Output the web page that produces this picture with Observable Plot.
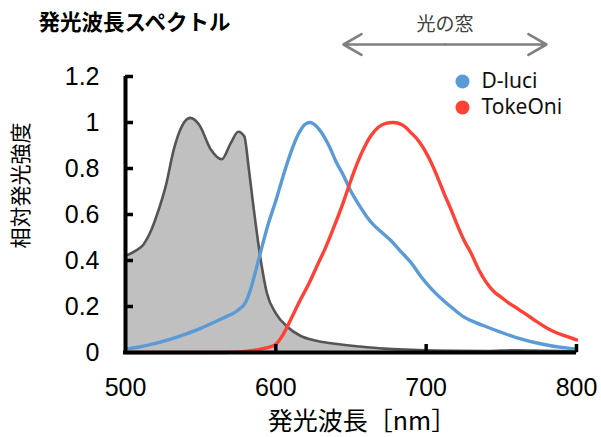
<!DOCTYPE html>
<html>
<head>
<meta charset="utf-8">
<script src="https://cdn.jsdelivr.net/npm/d3@7"></script>
<script src="https://cdn.jsdelivr.net/npm/@observablehq/plot@0.6"></script>
<style>
  html, body { margin: 0; padding: 0; background: #fff; }
  #chart svg { display: block; }
</style>
</head>
<body>
<div id="chart"></div>
<script>
// ---- data ----
const title = "発光波長スペクトル";
const yLabel = "相対発光強度";
const xLabel = "発光波長［nm］";
const windowLabel = "光の窓";
const windowRange = [645, 780];

const xDomain = [500, 800];
const yDomain = [0, 1.2];
const xTicks = [500, 600, 700, 800];
const yTicks = [0, 0.2, 0.4, 0.6, 0.8, 1, 1.2];

const seriesNames = ["D-luci", "TokeOni"];
const seriesColors = ["#5b9bd5", "#ff4136"];

// gray filled spectrum (light source)
const lampWl  = [500, 506, 512, 517, 521, 527, 532, 538, 543, 549, 557, 564, 570, 575, 579, 582, 585, 590, 594, 600, 608, 616, 626, 638, 656, 672, 690, 705, 720, 740, 760, 780, 800];
const lampVal = [0.42, 0.44, 0.47, 0.53, 0.60, 0.73, 0.88, 0.99, 1.02, 0.99, 0.88, 0.84, 0.91, 0.96, 0.94, 0.80, 0.64, 0.40, 0.26, 0.17, 0.11, 0.074, 0.052, 0.039, 0.026, 0.017, 0.012, 0.009, 0.007, 0.006, 0.01, 0.007, 0.005];

// D-luci
const dluciWl  = [500, 510, 520, 530, 540, 550, 560, 565, 570, 575, 580, 583, 586, 590, 595, 600, 605, 610, 615, 620, 623, 626, 630, 636, 640, 645, 650, 655, 660, 665, 670, 676, 683, 690, 696, 703, 710, 718, 725, 733, 740, 749, 760, 776, 790, 800];
const dluciVal = [0.015, 0.025, 0.04, 0.058, 0.08, 0.105, 0.135, 0.15, 0.165, 0.185, 0.22, 0.27, 0.34, 0.44, 0.56, 0.66, 0.77, 0.87, 0.95, 0.995, 1.0, 0.99, 0.96, 0.89, 0.83, 0.77, 0.70, 0.645, 0.595, 0.555, 0.525, 0.49, 0.44, 0.39, 0.335, 0.28, 0.235, 0.19, 0.155, 0.13, 0.112, 0.09, 0.065, 0.038, 0.022, 0.015];

// TokeOni
const tokeWl  = [500, 520, 540, 560, 570, 578, 585, 590, 595, 600, 605, 610, 616, 622, 628, 633, 638, 645, 650, 654, 658, 663, 668, 673, 678, 684, 690, 695, 699, 703, 708, 712, 716, 720, 725, 730, 735, 740, 745, 750, 755, 761, 770, 783, 792, 800];
const tokeVal = [0.0, 0.0, 0.0, 0.0, 0.001, 0.004, 0.009, 0.015, 0.022, 0.036, 0.08, 0.145, 0.225, 0.30, 0.385, 0.455, 0.535, 0.655, 0.75, 0.82, 0.88, 0.94, 0.978, 0.996, 1.0, 0.99, 0.955, 0.92, 0.88, 0.83, 0.755, 0.69, 0.63, 0.565, 0.49, 0.43, 0.36, 0.305, 0.265, 0.24, 0.215, 0.19, 0.15, 0.097, 0.073, 0.055];

// ---- build tables ----
const lamp  = lampWl.map((x, i) => ({x, y: lampVal[i]}));
const dluci = dluciWl.map((x, i) => ({x, y: dluciVal[i]}));
const toke  = tokeWl.map((x, i) => ({x, y: tokeVal[i]}));

const W = 601, H = 437;
const mL = 125, mR = 25, mT = 76, mB = 85;
const frameW = W - mL - mR, frameH = H - mT - mB;

const jp = "'Noto Sans CJK JP', 'Noto Sans', sans-serif";
const num = "'Liberation Sans', Arial, sans-serif";
const windowMid = (windowRange[0] + windowRange[1]) / 2;

const chart = Plot.plot({
  width: W, height: H,
  marginLeft: mL, marginRight: mR, marginTop: mT, marginBottom: mB,
  x: {domain: xDomain},
  y: {domain: yDomain},
  style: {background: "#fff", fontFamily: num, color: "#000", overflow: "visible"},
  marks: [
    Plot.areaY(lamp, {x: "x", y: "y", fill: "#c0c0c0", curve: "monotone-x"}),
    Plot.lineY(lamp, {x: "x", y: "y", stroke: "#555555", strokeWidth: 2.6, curve: "monotone-x"}),
    Plot.lineY(dluci, {x: "x", y: "y", stroke: seriesColors[0], strokeWidth: 3.4, curve: "monotone-x"}),
    Plot.lineY(toke, {x: "x", y: "y", stroke: seriesColors[1], strokeWidth: 3.4, curve: "monotone-x"}),
    // axis lines
    Plot.ruleX([xDomain[0]], {stroke: "#000", strokeWidth: 4}),
    Plot.ruleY([yDomain[0]], {stroke: "#000", strokeWidth: 4, insetLeft: -2}),
    // inward ticks
    Plot.ruleY(yTicks.slice(1), {stroke: "#000", strokeWidth: 3.5, insetRight: frameW - 8}),
    Plot.ruleX(xTicks.slice(1), {stroke: "#000", strokeWidth: 3.5, insetTop: frameH - 8}),
    // tick labels
    Plot.axisY({ticks: yTicks, tickSize: 0, tickPadding: 26, fontSize: 25, fontFamily: num, tickFormat: d => String(d), label: null}),
    Plot.axisX({ticks: xTicks, tickSize: 0, tickPadding: 26, fontSize: 25, fontFamily: num, tickFormat: d => String(d), label: null}),
    // axis titles
    Plot.text([yLabel], {frameAnchor: "left", rotate: -90, dx: -104, dy: -29, textAnchor: "middle", lineAnchor: "middle", fontSize: 21, fontFamily: jp, fill: "#000"}),
    Plot.text([xLabel], {frameAnchor: "bottom", dx: 11, dy: 69, textAnchor: "middle", lineAnchor: "middle", fontSize: 25, fontFamily: jp, fill: "#000"}),
    // title
    Plot.text([title], {frameAnchor: "top-left", dx: -87, dy: -53, textAnchor: "start", lineAnchor: "middle", fontSize: 21.5, fontWeight: "bold", fontFamily: jp, fill: "#000"}),
    // window arrow
    Plot.arrow([windowRange[0], windowRange[1]], {x1: () => windowMid, x2: d => d, y1: () => yDomain[1], y2: () => yDomain[1], dy: -32, stroke: "#808080", strokeWidth: 2.6, headLength: 12, headAngle: 60}),
    Plot.text([windowLabel], {x: () => windowMid, y: () => yDomain[1], dy: -52, fontSize: 19, fontFamily: jp, fill: "#404040"}),
    // legend
    ...seriesNames.map((name, i) => Plot.dot([name], {frameAnchor: "top-right", dx: -114, dy: 5 + 26 * i, r: 7, fill: seriesColors[i], stroke: null})),
    ...seriesNames.map((name, i) => Plot.text([name], {frameAnchor: "top-right", dx: -95, dy: 5 + 26 * i, text: d => d, textAnchor: "start", lineAnchor: "middle", fontSize: 21, fontFamily: "'Noto Sans', sans-serif", fill: "#111"}))
  ]
});
document.getElementById("chart").appendChild(chart);
</script>
</body>
</html>
